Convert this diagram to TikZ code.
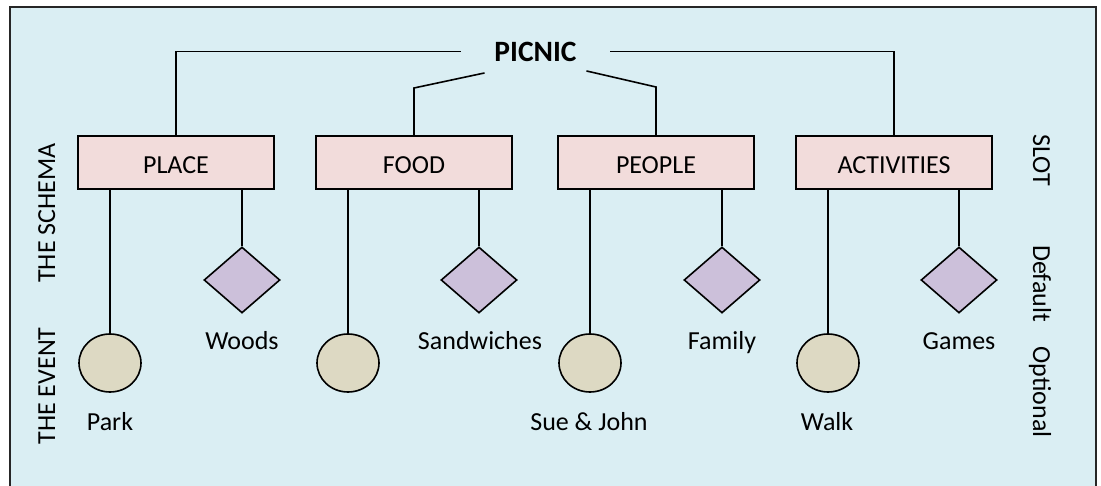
\documentclass[tikz,border=0pt]{standalone}
\usepackage{fontspec}
\setmainfont{Carlito}
\usetikzlibrary{shapes.geometric,calc}
\definecolor{bgblue}{HTML}{DAEEF3}
\definecolor{slotpink}{HTML}{F2DCDB}
\definecolor{deflilac}{HTML}{CCC0DA}
\definecolor{opttan}{HTML}{DDD9C3}
\begin{document}
\begin{tikzpicture}[x=1pt,y=-1pt,line width=1.6pt,
  every node/.style={font=\fontsize{26}{31}\selectfont},
  slotbox/.style={draw,fill=slotpink,rectangle,minimum width=196pt,minimum height=53pt,inner sep=0pt,text height=21.5pt,text depth=0pt},
  defshape/.style={draw,fill=deflilac,diamond,minimum width=76pt,minimum height=66pt,inner sep=0pt},
  optshape/.style={draw,fill=opttan,ellipse,minimum width=62pt,minimum height=58pt,inner sep=0pt},
  lbl/.style={anchor=base,inner sep=0pt},
  sidelbl/.style={anchor=base,inner sep=0pt}]
\useasboundingbox (0,0) rectangle (1101,486);
\fill[white] (0,0) rectangle (1101,486);
\fill[bgblue] (10,7) rectangle (1096,486);
\draw[black!85,line width=2pt] (10,492) -- (10,7) -- (1096,7) -- (1096,492);

% title
\node[font=\fontsize{29.5}{34}\selectfont\bfseries,inner xsep=33pt,inner ysep=11pt,text depth=0pt] (picnic) at (535.5,51.5) {PICNIC};

% slots
\node[slotbox] (place) at (176,162.5) {PLACE};
\node[slotbox] (food) at (414,162.5) {FOOD};
\node[slotbox] (people) at (656,162.5) {PEOPLE};
\node[slotbox] (acts) at (894,162.5) {ACTIVITIES};

% connectors from title
\draw (picnic.west) -| (place.north);
\draw (picnic.east) -| (acts.north);
\coordinate (fstart) at ($(picnic.south)+(-51,0)$);
\coordinate (pstart) at ($(picnic.south)+(51,-2)$);
\coordinate (fbend) at (414,88);
\coordinate (pbend) at (656,87);
\draw (fstart) -- (fbend) -- (food.north);
\draw (pstart) -- (pbend) -- (people.north);

% optional (circles) and defaults (diamonds)
\node[optshape] (o1) at (110,363) {};
\node[optshape] (o2) at (348,363) {};
\node[optshape] (o3) at (590,363) {};
\node[optshape] (o4) at (828,363) {};
\node[defshape] (d1) at (242,280) {};
\node[defshape] (d2) at (479,280) {};
\node[defshape] (d3) at (722,280) {};
\node[defshape] (d4) at (959,280) {};

\draw (o1.north) -- (o1.north |- place.south);
\draw (d1.north) -- (d1.north |- place.south);
\draw (o2.north) -- (o2.north |- food.south);
\draw (d2.north) -- (d2.north |- food.south);
\draw (o3.north) -- (o3.north |- people.south);
\draw (d3.north) -- (d3.north |- people.south);
\draw (o4.north) -- (o4.north |- acts.south);
\draw (d4.north) -- (d4.north |- acts.south);

% labels
\node[lbl] (lwoods) at (242,350) {Woods};
\node[lbl] (lsand) at (480,350) {Sandwiches};
\node[lbl] (lfam) at (722,350) {Family};
\node[lbl] (lgames) at (959,350) {Games};
\node[lbl] (lpark) at (110,430) {Park};
\node[lbl] (lsue) at (589,430) {Sue \& John};
\node[lbl] (lwalk) at (827,430) {Walk};

% side labels
\node[sidelbl,rotate=90] (schema) at (55,213) {THE SCHEMA};
\node[sidelbl,rotate=90] (event) at (55,386) {THE EVENT};
\node[sidelbl,rotate=-90] (slot) at (1033,160) {SLOT};
\node[sidelbl,rotate=-90] (default) at (1033,283.5) {Default};
\node[sidelbl,rotate=-90] (optional) at (1033,392) {Optional};
\end{tikzpicture}
\end{document}
